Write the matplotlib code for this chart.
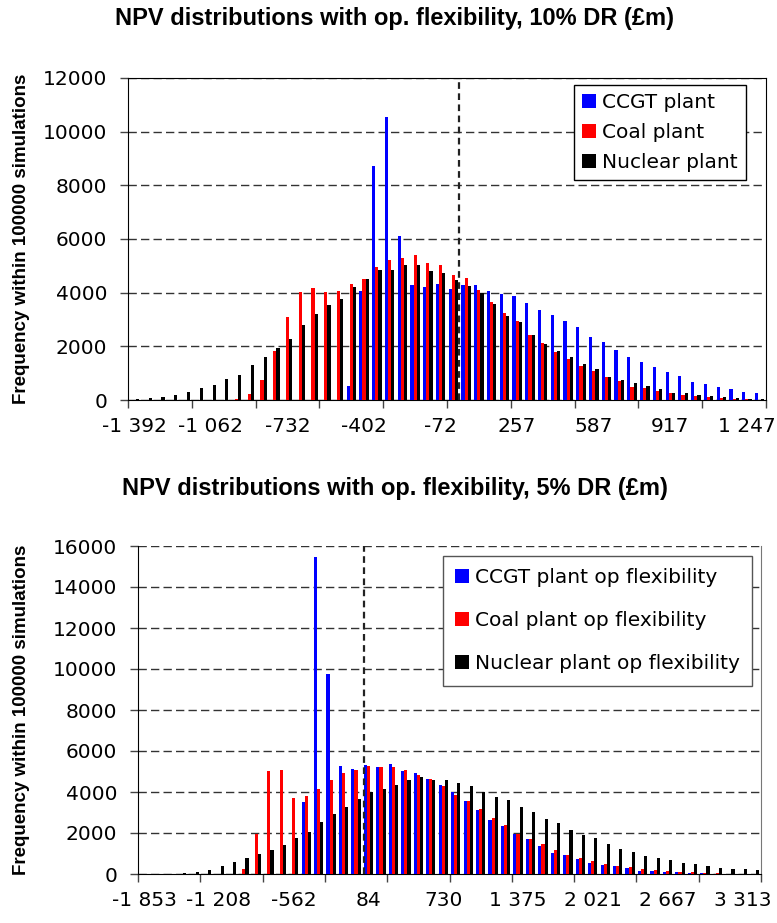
import numpy as np
import matplotlib
matplotlib.use("Agg")
from matplotlib import pyplot as plt
from matplotlib import transforms

plt.rcParams['font.family'] = ['Liberation Sans', 'DejaVu Sans']

# --- data: frequency per NPV bin (50 bins per chart) ---
ccgt_10 = [0, 0, 0, 0, 0, 0, 0, 0, 0, 0, 0, 0, 0, 0, 0, 0, 0,
           520, 4060, 8720, 10545, 6110, 4285, 4210, 4320, 4140,
           4285, 4285, 4060, 3950, 3875, 3615, 3350, 3170, 2940, 2720,
           2350, 2160, 1860, 1600, 1415, 1230, 1045, 895, 670, 600,
           485, 410, 300, 260]
coal_10 = [0, 0, 0, 0, 0, 0, 0, 0, 40, 220, 750, 1830, 3090, 4020, 4170,
           4020, 4060, 4320, 4510, 4960, 5220, 5290, 5400, 5100, 5030,
           4660, 4545, 4100, 3650, 3240, 2940, 2420, 2125, 1790, 1530,
           1270, 1080, 855, 710, 485, 450, 335, 260, 185, 150,
           110, 75, 40, 40, 0]
nuclear_10 = [40, 90, 125, 200, 300, 450, 560, 780, 930, 1300, 1600, 1940,
              2270, 2800, 3200, 3540, 3760, 4210, 4510, 4840, 4840, 5030,
              5030, 4810, 4730, 4470, 4250, 3990, 3580, 3130, 2905, 2420,
              2085, 1830, 1600, 1340, 1155, 855, 745, 630, 520, 410,
              260, 260, 185, 150, 110, 75, 40, 40]
labels_10 = ["-1 392", "-1 062", "-732", "-402", "-72", "257", "587", "917", "1 247"]
zero_npv_10 = 25.44  # position of the dashed line, in bin units

ccgt_5 = [0, 0, 0, 0, 0, 0, 0, 0, 0, 0, 0, 0, 0,
          3510, 15450, 9750, 5265, 5120, 5315, 5215, 5360, 5020, 4925,
          4630, 4340, 4000, 3560, 3120, 2630, 2340, 1950, 1705, 1365,
          1025, 925, 730, 535, 440, 390, 290, 145, 145, 100, 100,
          50, 50, 0, 0, 0, 0]
coal_5 = [0, 0, 0, 0, 0, 0, 0, 0, 245, 1950, 5020, 5070, 3705, 3800,
          4145, 4580, 4925, 5070, 5265, 5215, 5215, 5070, 4825, 4630,
          4290, 3850, 3560, 3170, 2730, 2390, 1950, 1705, 1460, 1170,
          925, 780, 635, 490, 390, 340, 245, 195, 145, 100, 100,
          50, 50, 0, 0, 0]
nuclear_5 = [0, 0, 0, 50, 100, 195, 390, 585, 780, 975, 1170, 1415, 1755,
             2050, 2535, 2925, 3265, 3655, 4000, 4145, 4340, 4580, 4730,
             4580, 4580, 4435, 4290, 4000, 3755, 3610, 3265, 3020, 2680,
             2485, 2145, 1900, 1755, 1460, 1220, 1070, 875, 780, 680,
             535, 490, 390, 290, 245, 245, 195]
labels_5 = ["-1 853", "-1 208", "-562", "84", "730", "1 375", "2 021", "2 667", "3 313"]
zero_npv_5 = 17.64

names_10 = ["CCGT plant", "Coal plant", "Nuclear plant"]
names_5 = ["CCGT plant op flexibility", "Coal plant op flexibility",
           "Nuclear plant op flexibility"]
colors = ["#0000ff", "#ff0000", "#000000"]

W, H = 777, 923
fig = plt.figure(figsize=(W / 100, H / 100), dpi=100)

# the original text is drawn wide, DejaVu Sans comes closest
wide = {'family': ['DejaVu Sans'], 'size': 14.5}


def px_axes(left, top, right, bottom):
    return fig.add_axes([left / W, 1 - bottom / H, (right - left) / W, (bottom - top) / H])


def draw_panel(ax, series, names, tick_labels, ymax, zero_pos):
    n = len(series[0])
    x = np.arange(n)
    for k, (vals, name, col) in enumerate(zip(series, names, colors)):
        ax.bar(x + (k - 1) * 0.25, vals, width=0.25, color=col, label=name, zorder=3)

    ax.set_xlim(-0.5, n - 0.5)
    ax.set_ylim(0, ymax)
    ax.set_yticks(range(0, ymax + 1, 2000))
    ax.grid(axis='y', linestyle=(0, (6, 3)), color='#333333', lw=1, zorder=1)
    ax.axvline(zero_pos, color='#222222', lw=1.6, linestyle=(0, (3, 2)), zorder=4)

    # tick marks every 5 bins, labels every 6 bins (category axis style)
    ax.set_xticks(np.arange(-0.5, n, 5))
    ax.set_xticklabels([])
    ax.set_xticks(np.arange(0, n, 6), minor=True)
    ax.set_xticklabels(tick_labels, minor=True)
    ax.tick_params(axis='x', which='major', direction='out', length=6, width=1,
                   color='#444444')
    ax.tick_params(axis='x', which='minor', length=0, pad=12)
    ax.tick_params(axis='y', direction='out', length=6, width=1, pad=9,
                   color='#444444')
    for t in ax.get_xticklabels(minor=True) + ax.get_yticklabels():
        t.set_fontfamily(wide['family'])
        t.set_fontsize(wide['size'])
    ax.set_ylabel("Frequency within 100000 simulations", fontsize=13.5,
                  fontweight='bold')
    tr = transforms.blended_transform_factory(fig.transFigure, ax.transAxes)
    ax.yaxis.set_label_coords(30 / W, 0.5, transform=tr)


ax1 = px_axes(128, 78, 766, 400)
draw_panel(ax1, [ccgt_10, coal_10, nuclear_10], names_10, labels_10, 12000, zero_npv_10)
for s in ax1.spines.values():
    s.set_color('black')
ax1.legend(loc='upper right', bbox_to_anchor=(746 / W, 1 - 85 / H),
           bbox_transform=fig.transFigure, borderaxespad=0, prop=wide,
           fancybox=False, edgecolor='black', framealpha=1, handlelength=0.7,
           handleheight=0.7, handletextpad=0.3, borderpad=0.4, labelspacing=0.55)

ax2 = px_axes(138, 546, 761, 874)
draw_panel(ax2, [ccgt_5, coal_5, nuclear_5], names_5, labels_5, 16000, zero_npv_5)
ax2.spines['top'].set_visible(False)
ax2.spines['right'].set_color('#777777')
ax2.legend(loc='upper right', bbox_to_anchor=(752 / W, 1 - 556 / H),
           bbox_transform=fig.transFigure, borderaxespad=0, prop=wide,
           fancybox=False, edgecolor='#555555', framealpha=1, handlelength=0.7,
           handleheight=0.7, handletextpad=0.3, borderpad=0.6, labelspacing=1.2)

fig.text(0.508, 1 - 19 / H, "NPV distributions with op. flexibility, 10% DR (£m)",
         ha='center', va='center', fontsize=17, fontweight='bold')
fig.text(0.508, 1 - 489 / H, "NPV distributions with op. flexibility, 5% DR (£m)",
         ha='center', va='center', fontsize=17, fontweight='bold')

fig.savefig("out.png", dpi=100)
